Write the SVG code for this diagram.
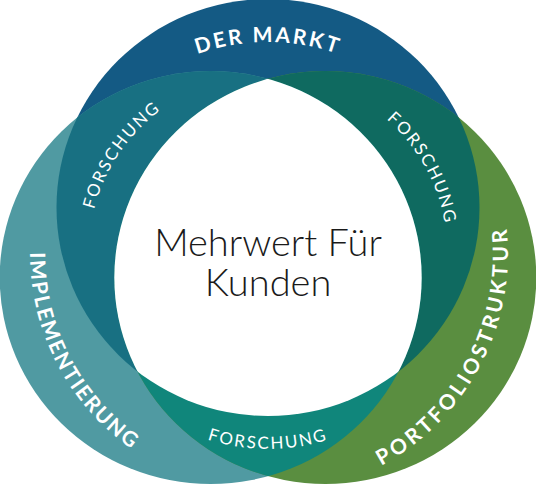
<svg xmlns="http://www.w3.org/2000/svg" width="536" height="485" viewBox="0 0 536 485">
<style>
.lbl{font-family:Lato,"Liberation Sans",sans-serif;fill:#ffffff;font-weight:700;font-size:21px}
.sub{font-family:Lato,"Liberation Sans",sans-serif;fill:#ffffff;font-weight:400;font-size:17px;letter-spacing:2px}
.ctr{font-family:Lato,"Liberation Sans",sans-serif;fill:#1a1a1a;font-weight:300;font-size:38px}
</style>
<defs>
<ellipse id="dA" cx="268" cy="207.5" rx="211.5" ry="208.5"/>
<ellipse id="dB" cx="210.7" cy="277.5" rx="211" ry="206.5"/>
<ellipse id="dC" cx="325.3" cy="277.5" rx="211" ry="206.5"/>
<clipPath id="cA"><use href="#dA"/></clipPath>
<clipPath id="cB"><use href="#dB"/></clipPath>
<path id="pMarkt" d="M 56 254 A 212 212 0 0 1 480 254"/>
<path id="pImpl" d="M 44.4 172.6 A 238 238 0 0 0 206.4 483.9"/>
<path id="pPort" d="M 319.9 488.3 A 240 240 0 0 0 489.7 162.2"/>
<path id="pTL" d="M 89.5 272.8 A 179.5 179.5 0 0 1 218.5 81.4"/>
<path id="pTR" d="M 332.3 86.4 A 179.5 179.5 0 0 1 444.2 288.2"/>
<path id="pB" d="M 142.7 403.4 A 195 195 0 0 0 393.3 403.4"/>
</defs>

<g id="ring-markt">
<use href="#dA" fill="#145a84"/>
</g>
<g id="ring-implementierung">
<use href="#dB" fill="#509aa2"/>
</g>
<g id="ring-portfoliostruktur">
<use href="#dC" fill="#5a8e40"/>
</g>
<g id="overlap-top-left">
<g clip-path="url(#cA)"><use href="#dB" fill="#187082"/></g>
</g>
<g id="overlap-top-right">
<g clip-path="url(#cA)"><use href="#dC" fill="#0f6a60"/></g>
</g>
<g id="overlap-bottom">
<g clip-path="url(#cB)"><use href="#dC" fill="#10867b"/></g>
</g>
<g id="center">
<g clip-path="url(#cA)"><g clip-path="url(#cB)"><use href="#dC" fill="#ffffff"/></g></g>
<text class="ctr" x="268" y="256" text-anchor="middle">Mehrwert Für</text>
<text class="ctr" x="268" y="296" text-anchor="middle">Kunden</text>
</g>

<g id="labels">
<text class="lbl" style="letter-spacing:2.5px"><textPath href="#pMarkt" startOffset="50%" text-anchor="middle">DER MARKT</textPath></text>
<text class="lbl" style="letter-spacing:2px"><textPath href="#pImpl" startOffset="50%" text-anchor="middle">IMPLEMENTIERUNG</textPath></text>
<text class="lbl" style="letter-spacing:3.5px"><textPath href="#pPort" startOffset="50%" text-anchor="middle">PORTFOLIOSTRUKTUR</textPath></text>
<text class="sub"><textPath href="#pTL" startOffset="50%" text-anchor="middle">FORSCHUNG</textPath></text>
<text class="sub"><textPath href="#pTR" startOffset="50%" text-anchor="middle">FORSCHUNG</textPath></text>
<text class="sub"><textPath href="#pB" startOffset="50%" text-anchor="middle">FORSCHUNG</textPath></text>
</g>
<g id="connectors"/>
</svg>
